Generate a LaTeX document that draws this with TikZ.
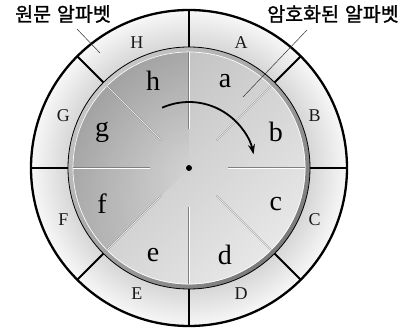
\documentclass[tikz,border=0pt]{standalone}
\usepackage{fontspec}
\setmainfont{Liberation Serif}
\newfontfamily\kr{Noto Sans CJK KR}[FakeBold=1.2]
\usetikzlibrary{arrows.meta,fadings}
\pgfdeclareradialshading{ringshade}{\pgfpoint{0bp}{0bp}}{color(0bp)=(black!16); color(19.1bp)=(black!16); color(25bp)=(black!3); color(50bp)=(black!3)}
\tikzfading[name=centerfade, inner color=transparent!100, outer color=transparent!0]
\begin{document}
\begin{tikzpicture}[x=1pt,y=1pt,
  outerlet/.style={font=\fontsize{18}{18}\selectfont, text=black!90},
  innerlet/.style={font=\fontsize{28}{28}\selectfont},
  krlabel/.style={font=\kr\fontsize{19.5}{19.5}\selectfont},
  divider/.style={line width=2pt},
  pointer/.style={line width=0.5pt, black!80}]
\useasboundingbox (-189,-161) rectangle (221,168);
% outer ring
\shade[shading=ringshade] (0,0) circle (158);
% inner disk
\shade[top color=black!26, bottom color=black!9, shading angle=45] (0,0) circle (121);
\begin{scope}
  \clip (0,0) -- (90:125) arc (90:225:125) -- cycle;
  \fill[black, opacity=0.14, path fading=centerfade] (0,0) circle (116);
\end{scope}
% rim
\shade[even odd rule, top color=black!22, bottom color=black!52, shading angle=45] (0,0) circle (121) circle (116.5);
\draw[white, line width=0.6] (0,0) circle (116);
\draw[line width=0.8] (0,0) circle (121);
% spokes
\foreach \a in {0,45,...,315} {
  \draw[black!50, line width=1.1] (\a:39) -- (\a:116);
  \draw[white, line width=0.45] (\a:39) -- (\a:116);
}
% ring dividers
\foreach \a in {0,45,...,315} \draw[divider] (\a:121) -- (\a:158);
\draw[line width=2.3] (0,0) circle (158);
% letters
\foreach \a/\L/\l in {67.5/A/a, 22.5/B/b, -22.5/C/c, -67.5/D/d, -112.5/E/e, -157.5/F/f, 157.5/G/g, 112.5/H/h} {
  \node[outerlet] (O\L) at (\a:136) {\L};
  \node[innerlet] (I\l) at (\a:94) {\l};
}
% rotation arrow
\draw[line width=1.8, -{Stealth[length=10pt, width=7pt]}] (114:66) arc (114:12:66);
\fill (0,0) circle (3);
% labels
\node[krlabel] (plain) at (-126,154) {원문\hspace{0.3em}알파벳};
\node[krlabel] (cipher) at (144,154) {암호화된\hspace{0.3em}알파벳};
\coordinate (p1) at (-112,139);
\coordinate (p2) at (-89,115);
\coordinate (c1) at (118,138);
\coordinate (c2) at (54,71);
\draw[pointer] (p1) -- (p2);
\draw[pointer] (c1) -- (c2);
\end{tikzpicture}
\end{document}
